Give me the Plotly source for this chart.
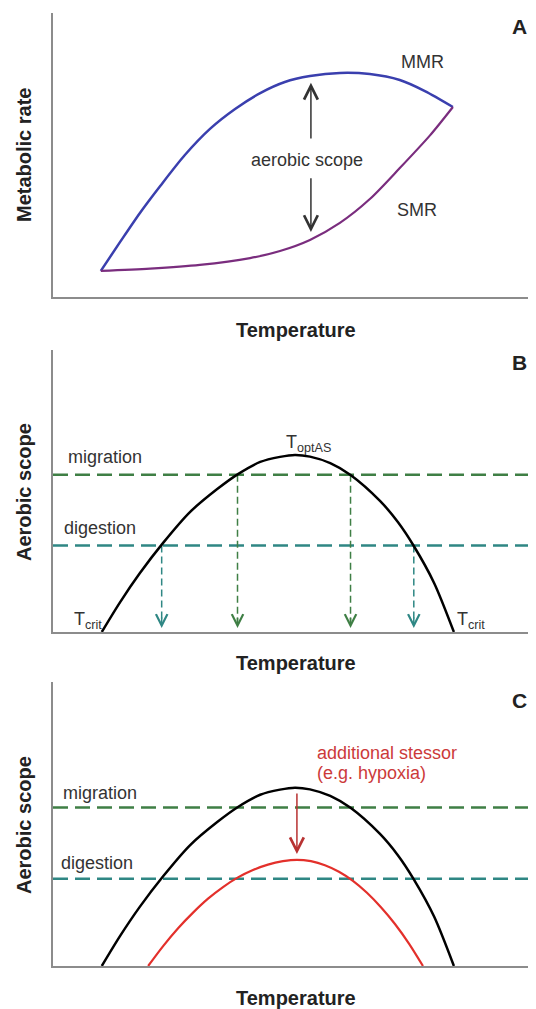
import plotly.graph_objects as go

# ---------------- data (arbitrary units: temperature 0-100, rate 0-100) -------------
# Panel A: metabolic rates vs temperature
mmr_T = [9.9, 13.9, 18.0, 22.2, 27.3, 32.5, 37.7, 42.9, 48.0, 53.2, 59.4, 65.6, 71.8, 77.0, 82.8]
mmr_rate = [9.2, 19.4, 29.6, 39.1, 50.0, 59.2, 66.2, 71.8, 75.7, 77.8, 78.9, 78.5, 76.4, 72.5, 66.9]
smr_T = [9.9, 20.1, 30.4, 40.8, 47.0, 53.2, 59.4, 65.6, 71.8, 78.1, 82.8]
smr_rate = [9.2, 10.0, 11.3, 13.7, 16.2, 20.1, 26.1, 34.5, 45.4, 57.0, 66.9]
scope_arrow_T = 53.4
scope_up = [55.3, 75.4]      # tail, tip
scope_down = [42.3, 22.9]    # tail, tip

# Panels B & C: aerobic scope vs temperature
as_T = [10.1, 13.9, 18.0, 22.8, 28.4, 34.0, 38.3, 42.9, 47.0, 50.1, 53.2, 57.4, 61.6, 67.7, 71.4, 74.7, 78.9, 83.0]
as_val = [0, 10.6, 20.9, 31.6, 42.6, 50.7, 56.0, 60.3, 62.1, 62.8, 62.2, 59.9, 55.7, 46.5, 39.0, 30.5, 17.4, 0]
stress_T = [19.7, 22.8, 25.9, 29.0, 32.1, 35.2, 38.3, 41.4, 44.5, 47.6, 50.5,
            53.4, 56.3, 59.2, 62.1, 65.0, 67.9, 70.8, 73.7, 76.6]
stress_val = [0, 7.0, 13.3, 18.8, 23.7, 27.8, 31.2, 33.8, 35.7, 36.9, 37.4,
              36.9, 35.5, 33.2, 30.0, 25.8, 20.7, 14.8, 7.9, 0]

migration_level = 55.8
digestion_level = 30.7
migration_T = [38.2, 61.6]
digestion_T = [22.5, 74.7]
arrow_tip_level = 1.4
stress_arrow_T = 50.5
stress_arrow = [61.3, 39.4]  # tail, tip

# ---------------- styling ----------------
OFF = 8                    # page body margin of the html page
W, H = 536 - 2 * OFF, 1009 - OFF
X_MAX = (W + OFF - 53) / 4.83   # keeps 0..100 temperature units spanning page px 53..536
FONT = "Liberation Sans, Arial, sans-serif"
TXT = "#333333"
TITLE = "#222222"
GREEN = "#3f7f45"
TEAL = "#2f8784"
AXC = "#8c8c8c"


def xp(px):
    return (px - OFF) / W


def yp(py):
    return 1 - (py - OFF) / H


fig = go.Figure()

# Panel A
fig.add_trace(go.Scatter(x=mmr_T, y=mmr_rate, mode="lines",
                         line=dict(color="#3a3fae", width=2.5, shape="spline", smoothing=0.8),
                         xaxis="x", yaxis="y"))
fig.add_trace(go.Scatter(x=smr_T, y=smr_rate, mode="lines",
                         line=dict(color="#7a2d7e", width=2.2, shape="spline", smoothing=0.8),
                         xaxis="x", yaxis="y"))

# Panel B
for lvl, col in [(migration_level, GREEN), (digestion_level, TEAL)]:
    fig.add_trace(go.Scatter(x=[0, X_MAX], y=[lvl, lvl], mode="lines",
                             line=dict(color=col, width=2.5, dash="15px,7px"), xaxis="x2", yaxis="y2"))
for xs, lvl, col in [(migration_T, migration_level, GREEN), (digestion_T, digestion_level, TEAL)]:
    for xc in xs:
        fig.add_trace(go.Scatter(x=[xc, xc], y=[lvl, arrow_tip_level + 1.5], mode="lines",
                                 line=dict(color=col, width=1.5, dash="7px,4px"), xaxis="x2", yaxis="y2"))
fig.add_trace(go.Scatter(x=as_T, y=as_val, mode="lines",
                         line=dict(color="black", width=2.5, shape="spline", smoothing=0.8),
                         xaxis="x2", yaxis="y2"))

# Panel C
for lvl, col in [(migration_level, GREEN), (digestion_level, TEAL)]:
    fig.add_trace(go.Scatter(x=[0, X_MAX], y=[lvl, lvl], mode="lines",
                             line=dict(color=col, width=2.5, dash="15px,7px"), xaxis="x3", yaxis="y3"))
fig.add_trace(go.Scatter(x=as_T, y=as_val, mode="lines",
                         line=dict(color="black", width=2.5, shape="spline", smoothing=0.8),
                         xaxis="x3", yaxis="y3"))
fig.add_trace(go.Scatter(x=stress_T, y=stress_val, mode="lines",
                         line=dict(color="#e3302b", width=2.2, shape="spline", smoothing=0.8),
                         xaxis="x3", yaxis="y3"))

ax_common = dict(showline=True, linecolor=AXC, linewidth=2, showticklabels=False,
                 ticks="", showgrid=False, zeroline=False, fixedrange=True)
xdom = [xp(53), 1]

annotations = []


def txt(text, x, y, xref, yref, size=18, color=TXT, bold=False, xanchor="center", angle=0):
    if bold:
        text = "<b>" + text + "</b>"
    annotations.append(dict(text=text, x=x, y=y, xref=xref, yref=yref, showarrow=False,
                            font=dict(family=FONT, size=size, color=color), xanchor=xanchor,
                            yanchor="middle", textangle=angle))


def arrow(x, tip, tail, xref, yref, color, width=1.5, size=1.8):
    annotations.append(dict(text="", x=x, y=tip, ax=x, ay=tail, xref=xref, yref=yref,
                            axref=xref, ayref=yref, showarrow=True, arrowhead=5,
                            arrowsize=size, arrowwidth=width, arrowcolor=color))


# Panel A texts
txt("MMR", 76.6, 82.7, "x", "y")
txt("SMR", 75.4, 30.6, "x", "y")
txt("aerobic scope", 52.6, 48.2, "x", "y")
arrow(scope_arrow_T, scope_up[1], scope_up[0], "x", "y", "#333333")
arrow(scope_arrow_T, scope_down[1], scope_down[0], "x", "y", "#333333")
txt("A", xp(519), yp(26), "paper", "paper", size=21, color=TITLE, bold=True)
txt("Metabolic rate", xp(24), yp(155), "paper", "paper", size=20, color=TITLE, bold=True, angle=-90)
txt("Temperature", xp(296), yp(330), "paper", "paper", size=20, color=TITLE, bold=True)

# Panel B texts
txt("migration", 2.7, 62.1, "x2", "y2", xanchor="left")
txt("digestion", 1.9, 36.9, "x2", "y2", xanchor="left")
txt("T<sub>optAS</sub>", 47.8, 67.0, "x2", "y2", xanchor="left")
txt("T<sub>crit</sub>", 3.9, 4.0, "x2", "y2", xanchor="left")
txt("T<sub>crit</sub>", 83.2, 4.0, "x2", "y2", xanchor="left")
for xs, col in [(migration_T, GREEN), (digestion_T, TEAL)]:
    for xc in xs:
        annotations.append(dict(text="", x=xc, y=arrow_tip_level, ax=0, ay=-12, xref="x2", yref="y2",
                                showarrow=True, arrowhead=5, arrowsize=1.5, arrowwidth=1.5, arrowcolor=col))
txt("B", xp(519), yp(362), "paper", "paper", size=21, color=TITLE, bold=True)
txt("Aerobic scope", xp(24), yp(492), "paper", "paper", size=20, color=TITLE, bold=True, angle=-90)
txt("Temperature", xp(296), yp(663), "paper", "paper", size=20, color=TITLE, bold=True)

# Panel C texts
txt("migration", 1.7, 60.9, "x3", "y3", xanchor="left")
txt("digestion", 1.2, 36.3, "x3", "y3", xanchor="left")
txt("additional stessor", 54.2, 75.0, "x3", "y3", color="#cc3a3a", xanchor="left")
txt("(e.g. hypoxia)", 54.2, 68.0, "x3", "y3", color="#cc3a3a", xanchor="left")
arrow(stress_arrow_T, stress_arrow[1], stress_arrow[0], "x3", "y3", "#b83232")
txt("C", xp(519), yp(700), "paper", "paper", size=21, color=TITLE, bold=True)
txt("Aerobic scope", xp(24), yp(825), "paper", "paper", size=20, color=TITLE, bold=True, angle=-90)
txt("Temperature", xp(296), yp(998), "paper", "paper", size=20, color=TITLE, bold=True)

fig.update_layout(
    width=W, height=H, margin=dict(l=0, r=0, t=0, b=0),
    paper_bgcolor="white", plot_bgcolor="white", showlegend=False,
    xaxis=dict(domain=xdom, anchor="y", range=[0, X_MAX], **ax_common),
    yaxis=dict(domain=[yp(297), yp(13)], anchor="x", range=[0, 100], **ax_common),
    xaxis2=dict(domain=xdom, anchor="y2", range=[0, X_MAX], **ax_common),
    yaxis2=dict(domain=[yp(632), yp(350)], anchor="x2", range=[0, 100], **ax_common),
    xaxis3=dict(domain=xdom, anchor="y3", range=[0, X_MAX], **ax_common),
    yaxis3=dict(domain=[yp(966), yp(682)], anchor="x3", range=[0, 100], **ax_common),
    annotations=annotations,
)

fig.write_html("out.html")
